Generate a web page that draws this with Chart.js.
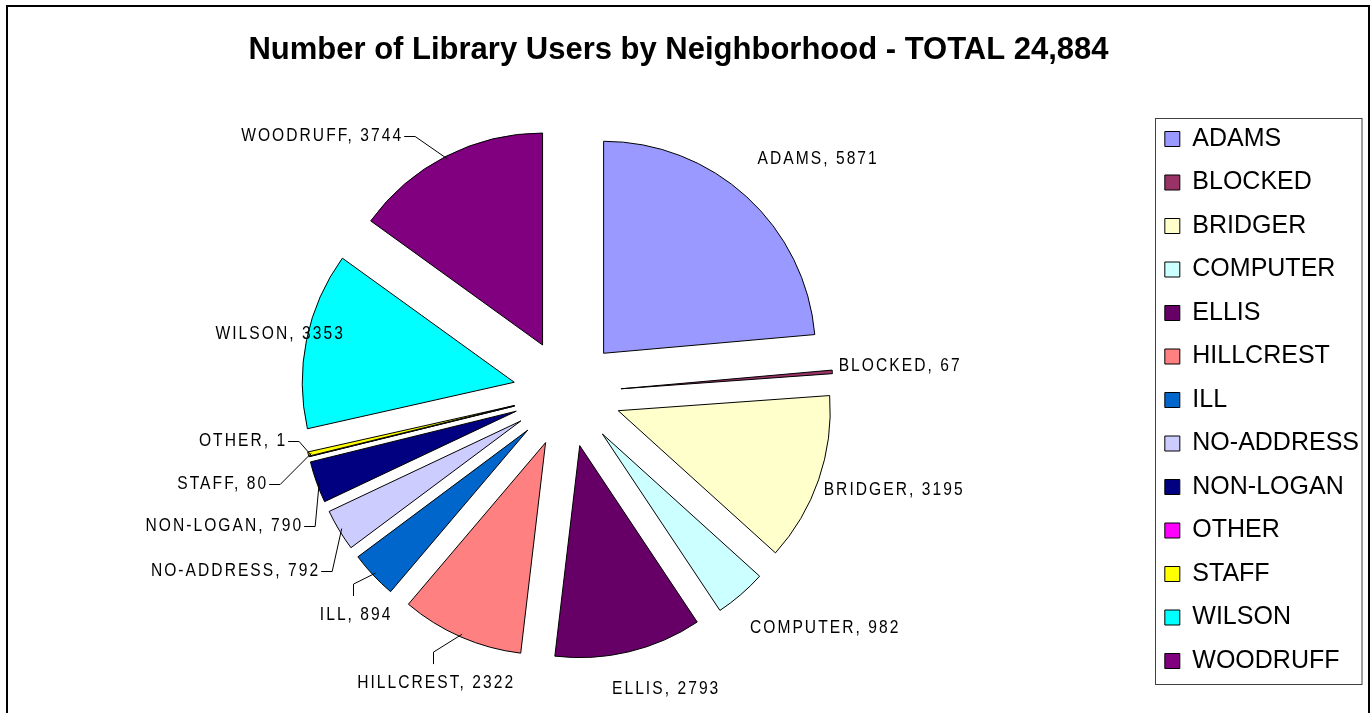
<!DOCTYPE html>
<html>
<head>
<meta charset="utf-8">
<title>Library Users by Neighborhood</title>
<script src="https://cdn.jsdelivr.net/npm/chart.js@4.4.1/dist/chart.umd.min.js"></script>
<style>
    html, body { margin: 0; padding: 0; background: #fff; overflow: hidden; }
    #wrap { width: 1372px; height: 713px; overflow: hidden; position: relative; }
    /* canvas starts a bit left of the page so the pie can sit where the original has it */
    #pieChart { position: absolute; left: -12px; top: 0; }
</style>
</head>
<body>
<div id="wrap"><canvas id="pieChart" width="1384" height="713"></canvas></div>
<script>
// Chart data
const neighborhoods = ['ADAMS', 'BLOCKED', 'BRIDGER', 'COMPUTER', 'ELLIS', 'HILLCREST', 'ILL',
    'NO-ADDRESS', 'NON-LOGAN', 'OTHER', 'STAFF', 'WILSON', 'WOODRUFF'];
const userCounts = [5871, 67, 3195, 982, 2793, 2322, 894, 792, 790, 1, 80, 3353, 3744];
const sliceColors = ['#9999FF', '#993366', '#FFFFCC', '#CCFFFF', '#660066', '#FF8080', '#0066CC',
    '#CCCCFF', '#000080', '#FF00FF', '#FFFF00', '#00FFFF', '#800080'];
const chartTitle = 'Number of Library Users by Neighborhood - TOTAL 24,884';

// Layout / style settings
const canvasShift = 12;     // canvas is moved left by this much on the page
const explodeOffset = 54;   // how far each slice is pulled out of the pie
const labelFont = '19px "Liberation Sans", Arial, sans-serif';
const labelSquash = 0.82;   // narrow look of the data labels

// Label spot relative to pie centre (dx, dy), text alignment and leader style
const labelLayout = [
    { dx: 251, dy: -234, align: 'center' },                  // ADAMS
    { dx: 333, dy: -27, align: 'center' },                   // BLOCKED
    { dx: 327, dy: 97, align: 'center' },                    // BRIDGER
    { dx: 258, dy: 235, align: 'center' },                   // COMPUTER
    { dx: 99, dy: 296, align: 'center' },                    // ELLIS
    { dx: -131, dy: 290, align: 'center', leader: 'top' },   // HILLCREST
    { dx: -211, dy: 222, align: 'center', leader: 'top' },   // ILL
    { dx: -247, dy: 178, align: 'right', leader: 'side' },   // NO-ADDRESS
    { dx: -264, dy: 133, align: 'right', leader: 'side' },   // NON-LOGAN
    { dx: -280, dy: 48, align: 'right', leader: 'side' },    // OTHER
    { dx: -299, dy: 91, align: 'right', leader: 'side' },    // STAFF
    { dx: -287, dy: -59, align: 'center' },                  // WILSON
    { dx: -164, dy: -257, align: 'right', leader: 'side' }   // WOODRUFF
];

// Draw each slice pulled outward along its middle angle
const explodePlugin = {
    id: 'explode',
    beforeDatasetDraw(chart, args) {
        const ctx = chart.ctx;
        args.meta.data.forEach(arc => {
            const mid = (arc.startAngle + arc.endAngle) / 2;
            ctx.save();
            ctx.translate(Math.cos(mid) * explodeOffset, Math.sin(mid) * explodeOffset);
            arc.draw(ctx);
            ctx.restore();
        });
        return false;
    }
};

// Data labels with leader lines, legend frame and outer frame
const decorPlugin = {
    id: 'decor',
    afterDraw(chart) {
        const ctx = chart.ctx;
        const meta = chart.getDatasetMeta(0);

        ctx.save();
        ctx.strokeStyle = '#000';
        ctx.fillStyle = '#000';
        ctx.lineWidth = 1;
        meta.data.forEach((arc, i) => {
            const spot = labelLayout[i];
            const tx = arc.x + spot.dx;
            const ty = arc.y + spot.dy;

            ctx.save();
            ctx.translate(tx, ty);
            ctx.scale(labelSquash, 1);
            ctx.font = labelFont;
            ctx.letterSpacing = '2.5px';
            ctx.textBaseline = 'middle';
            ctx.textAlign = spot.align;
            ctx.fillText(neighborhoods[i] + ', ' + userCounts[i], 0, 0);
            ctx.restore();

            if (spot.leader) {
                const mid = (arc.startAngle + arc.endAngle) / 2;
                const r = arc.outerRadius + explodeOffset - 3;
                const ex = arc.x + Math.cos(mid) * r;
                const ey = arc.y + Math.sin(mid) * r;
                ctx.beginPath();
                if (spot.leader === 'side') {
                    ctx.moveTo(tx + 1, Math.round(ty) + 0.5);
                    ctx.lineTo(tx + 12, Math.round(ty) + 0.5);
                } else {
                    ctx.moveTo(Math.round(tx - 3) + 0.5, ty - 19);
                    ctx.lineTo(Math.round(tx - 3) + 0.5, ty - 31);
                }
                ctx.lineTo(ex, ey);
                ctx.stroke();
            }
        });
        ctx.restore();

        // legend frame
        const lg = chart.legend;
        const pad = lg.options.labels.padding;
        const firstTop = lg.top + lg._computeTitleHeight() + pad;
        const colHeight = lg.columnSizes ? lg.columnSizes[0].height : 565;
        const x0 = Math.round(lg.left + pad - 10) + 0.5;
        const y0 = Math.round(firstTop - 9) + 0.5;
        ctx.save();
        ctx.strokeStyle = '#404040';
        ctx.lineWidth = 1;
        ctx.strokeRect(x0, y0, Math.round(lg.right - 7) - x0, Math.round(colHeight));
        // outer chart frame
        ctx.strokeStyle = '#000';
        ctx.lineWidth = 2;
        ctx.strokeRect(7 + canvasShift, 6, 1362, 720);
        ctx.restore();
    }
};

const ctx = document.getElementById('pieChart').getContext('2d');
const pieChart = new Chart(ctx, {
    type: 'pie',
    data: {
        labels: neighborhoods,
        datasets: [{
            data: userCounts,
            backgroundColor: sliceColors,
            borderColor: '#000',
            borderWidth: 1
        }]
    },
    options: {
        responsive: false,
        animation: false,
        radius: 212,
        layout: {
            padding: { top: 0, left: 0, right: 3, bottom: 20 }
        },
        plugins: {
            title: {
                display: true,
                text: chartTitle,
                color: '#000',
                font: { family: '"Liberation Sans", Arial, sans-serif', size: 31, weight: 'bold' },
                padding: { top: 32, bottom: 24 }
            },
            legend: {
                position: 'right',
                align: 'start',
                // empty legend title only pushes the items down
                title: { display: true, text: '', font: { size: 10 }, padding: { top: 96, bottom: 0 } },
                labels: {
                    boxWidth: 15,
                    boxHeight: 15,
                    padding: 18.5,
                    color: '#000',
                    font: { family: '"Liberation Sans", Arial, sans-serif', size: 25 }
                }
            },
            tooltip: { enabled: false }
        },
        events: []
    },
    plugins: [explodePlugin, decorPlugin]
});
</script>
</body>
</html>
